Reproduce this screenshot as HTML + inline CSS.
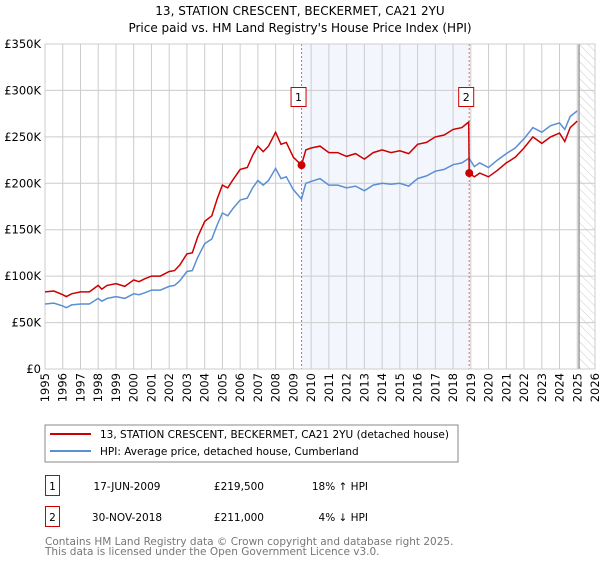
<!DOCTYPE html>
<html><head><meta charset="utf-8"><style>
body{margin:0;background:#fff;}
svg text{font-family:"DejaVu Sans","Liberation Sans",sans-serif;}
</style></head><body>
<svg width="600" height="560" xmlns="http://www.w3.org/2000/svg">
<text x="300" y="15" text-anchor="middle" font-size="12">13, STATION CRESCENT, BECKERMET, CA21 2YU</text>
<text x="300" y="32" text-anchor="middle" font-size="12">Price paid vs. HM Land Registry's House Price Index (HPI)</text>
<defs><pattern id="hatch" width="6" height="6" patternUnits="userSpaceOnUse" patternTransform="rotate(-45)"><line x1="0" y1="0" x2="0" y2="6" stroke="#ccc" stroke-width="1"/></pattern></defs>
<g id="grid"></g>
<g id="marks"></g>
<g id="axes"></g>
<rect x="45" y="425" width="413" height="37" fill="#fff" stroke="#888"/>
<line x1="50" y1="434" x2="91" y2="434" stroke="#cc0000" stroke-width="2"/>
<text x="100" y="438" font-size="10.5">13, STATION CRESCENT, BECKERMET, CA21 2YU (detached house)</text>
<line x1="50" y1="451" x2="91" y2="451" stroke="#5b8fd4" stroke-width="2"/>
<text x="100" y="455" font-size="10.5">HPI: Average price, detached house, Cumberland</text>
<g font-size="10.5">
<rect x="45.5" y="475.5" width="14" height="20" fill="#fff" stroke="#cc0000"/>
<text x="52.5" y="490" text-anchor="middle">1</text>
<text x="127" y="490" text-anchor="middle">17-JUN-2009</text>
<text x="264" y="490" text-anchor="end">£219,500</text>
<text x="368" y="490" text-anchor="end">18% ↑ HPI</text>
<rect x="45.5" y="506.5" width="14" height="20" fill="#fff" stroke="#cc0000"/>
<text x="52.5" y="521" text-anchor="middle">2</text>
<text x="127" y="521" text-anchor="middle">30-NOV-2018</text>
<text x="264" y="521" text-anchor="end">£211,000</text>
<text x="368" y="521" text-anchor="end">4% ↓ HPI</text>
</g>
<text x="45" y="545" font-size="10.5" fill="#777">Contains HM Land Registry data © Crown copyright and database right 2025.</text>
<text x="45" y="555" font-size="10.5" fill="#777">This data is licensed under the Open Government Licence v3.0.</text>
</svg>
<script>
const yTicks=[0,50,100,150,200,250,300,350];
const yTickLabels=["£0","£50K","£100K","£150K","£200K","£250K","£300K","£350K"];
const xYears=[1995,1996,1997,1998,1999,2000,2001,2002,2003,2004,2005,2006,2007,2008,2009,2010,2011,2012,2013,2014,2015,2016,2017,2018,2019,2020,2021,2022,2023,2024,2025,2026];
const sales=[2009.46,2018.91];
const saleValues=[219.5,211];
const saleLabels=["1","2"];
const hpiX=[1995,1995.5,1996,1996.2,1996.5,1997,1997.5,1998,1998.2,1998.5,1999,1999.5,2000,2000.3,2000.6,2001,2001.5,2002,2002.3,2002.6,2003,2003.3,2003.6,2004,2004.4,2004.7,2005,2005.3,2005.6,2006,2006.4,2006.7,2007,2007.3,2007.6,2008,2008.3,2008.6,2009,2009.46,2009.7,2010,2010.5,2011,2011.5,2012,2012.5,2013,2013.5,2014,2014.5,2015,2015.5,2016,2016.5,2017,2017.5,2018,2018.5,2018.9,2019.2,2019.5,2020,2020.5,2021,2021.5,2022,2022.5,2023,2023.5,2024,2024.3,2024.6,2025];
const hpiY=[70,71,68,66,69,70,70,76,73,76,78,76,81,80,82,85,85,89,90,95,105,106,120,135,140,155,168,165,173,182,184,195,203,198,203,216,205,207,193,183,200,202,205,198,198,195,197,192,198,200,199,200,197,205,208,213,215,220,222,227,218,222,217,225,232,238,248,260,255,262,265,258,272,278];
const priceX=[1995,1995.5,1996,1996.2,1996.5,1997,1997.5,1998,1998.2,1998.5,1999,1999.5,2000,2000.3,2000.6,2001,2001.5,2002,2002.3,2002.6,2003,2003.3,2003.6,2004,2004.4,2004.7,2005,2005.3,2005.6,2006,2006.4,2006.7,2007,2007.3,2007.6,2008,2008.3,2008.6,2009,2009.46,2009.7,2010,2010.5,2011,2011.5,2012,2012.5,2013,2013.5,2014,2014.5,2015,2015.5,2016,2016.5,2017,2017.5,2018,2018.5,2018.88,2018.91,2019.2,2019.5,2020,2020.5,2021,2021.5,2022,2022.5,2023,2023.5,2024,2024.3,2024.6,2025];
const priceY=[83,84,80,78,81,83,83,90,86,90,92,89,96,94,97,100,100,105,106,112,124,125,142,159,165,183,198,195,204,215,217,230,240,234,240,255,242,244,228,219.5,236,238,240,233,233,229,232,226,233,236,233,235,232,242,244,250,252,258,260,266,211,207,211,207,214,222,228,238,250,243,250,254,245,260,267];
const L=45,R=595,T=44,B=369,X0=1995,X1=2026,YMAX=350;
const xs=v=>L+(v-X0)/(X1-X0)*(R-L);
const ys=v=>B-v/YMAX*(B-T);
const NS="http://www.w3.org/2000/svg";
function mk(tag,attrs,parent){const e=document.createElementNS(NS,tag);for(const k in attrs)e.setAttribute(k,attrs[k]);parent.appendChild(e);return e;}
const grid=document.getElementById('grid'),marks=document.getElementById('marks'),axes=document.getElementById('axes');
const shade=mk('rect',{x:xs(sales[0]),y:T,width:xs(sales[1])-xs(sales[0]),height:B-T,fill:'#eef3fc',opacity:0.7},grid);


const hat=mk('rect',{x:xs(2025.1),y:T,width:R-xs(2025.1),height:B-T,fill:'url(#hatch)'},grid);


yTicks.forEach((t,i)=>{
 const l=mk('line',{x1:L,x2:R,y1:ys(t),y2:ys(t),stroke:'#ccc'},grid);
 
 
 const tx=mk('text',{x:L-4,y:ys(t)+4,'text-anchor':'end','font-size':'11.5'},axes);
 tx.textContent=yTickLabels[i];
 
 
});
xYears.forEach(y=>{
 const l=mk('line',{x1:xs(y),x2:xs(y),y1:T,y2:B,stroke:'#ccc'},grid);
 
 
 const tx=mk('text',{x:0,y:0,'text-anchor':'end','font-size':'11.5',transform:`translate(${xs(y)+4},373) rotate(-90)`},axes);
 tx.textContent=y;
 
 
});
const vl=mk('line',{x1:xs(2025.1),x2:xs(2025.1),y1:T,y2:B,stroke:'#999','stroke-width':1.5},grid);


sales.forEach((s,i)=>{
 const l=mk('line',{x1:xs(s),x2:xs(s),y1:T,y2:B,stroke:'#e06666','stroke-dasharray':'2,2'},grid);
 
 
});
const fr=mk('rect',{x:L,y:T,width:R-L,height:B-T,fill:'none',stroke:'#ccc'},grid);


function path(xa,ya){return xa.map((x,i)=>(i?'L':'M')+xs(x).toFixed(1)+','+ys(ya[i]).toFixed(1)).join('');}
const hp=mk('path',{d:path(hpiX,hpiY),fill:'none',stroke:'#5b8fd4','stroke-width':1.5},marks);


const pp=mk('path',{d:path(priceX,priceY),fill:'none',stroke:'#cc0000','stroke-width':1.5},marks);


sales.forEach((s,i)=>{
 const c=mk('circle',{cx:xs(s),cy:ys(saleValues[i]),r:4,fill:'#cc0000'},marks);
 
 
 const bx=mk('rect',{x:xs(s)-10.5,y:87.5,width:15,height:19,fill:'#fff',stroke:'#cc0000'},marks);
 
 
 const t=mk('text',{x:xs(s)-3,y:101,'text-anchor':'middle','font-size':'11'},marks);
 t.textContent=saleLabels[i];
 
 
});
</script>
</body></html>
